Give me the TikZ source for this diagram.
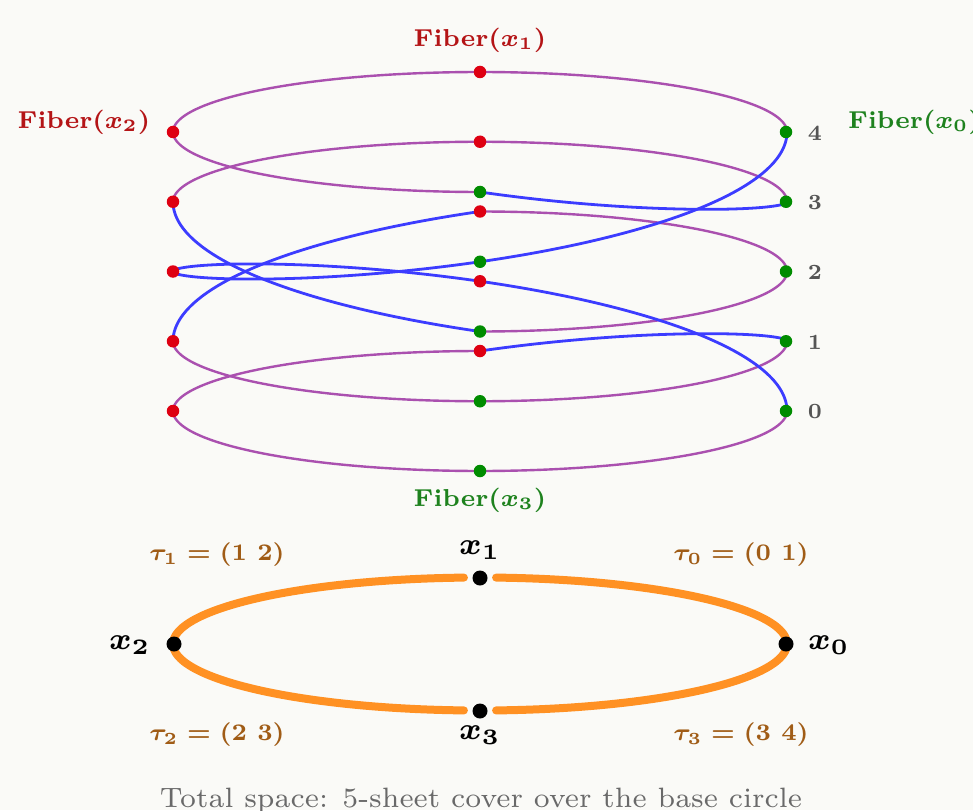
\documentclass[tikz,border=0pt]{standalone}
\usepackage{amsmath,bm}
\definecolor{bg}{RGB}{250,250,247}
\definecolor{sheetpurple}{RGB}{170,80,175}
\definecolor{swapblue}{RGB}{60,60,255}
\definecolor{dotred}{RGB}{222,0,18}
\definecolor{dotgreen}{RGB}{0,140,0}
\definecolor{labred}{RGB}{180,20,22}
\definecolor{labgreen}{RGB}{30,130,30}
\definecolor{taubrown}{RGB}{160,92,22}
\definecolor{numgrey}{RGB}{85,85,85}
\definecolor{capgrey}{RGB}{105,105,105}
\definecolor{baseorange}{RGB}{255,145,35}
\newcommand{\sheetseg}[5]{%
  \draw[#5] plot[domain=0:1, samples=70, smooth, variable=\t]
    ({480+307*cos(#1+(#2-#1)*\t)}, {411-69.75*(#3+(#4-#3)*\t)-60*sin(#1+(#2-#1)*\t)});}
\newcommand{\smallbold}[2]{\scalebox{#1}{\fontsize{7}{8}\selectfont\bfseries\boldmath #2}}
\newcommand{\smallreg}[2]{\scalebox{#1}{\fontsize{7}{8}\selectfont #2}}
\begin{document}
\begin{tikzpicture}[x=1pt,y=-1pt,
  idseg/.style={sheetpurple, line width=2.4pt},
  swseg/.style={swapblue, line width=2.8pt},
  rdot/.style={circle, fill=dotred, inner sep=0pt, minimum size=12.5pt},
  gdot/.style={circle, fill=dotgreen, inner sep=0pt, minimum size=12.5pt},
  bdot/.style={circle, fill=black, inner sep=0pt, minimum size=15pt},
  fibred/.style={text=labred, inner sep=0pt},
  fibgreen/.style={text=labgreen, inner sep=0pt},
  levnum/.style={text=numgrey, inner sep=0pt},
  taulab/.style={text=taubrown, inner sep=0pt},
  baselab/.style={text=black, inner sep=0pt},
  caption/.style={text=capgrey, inner sep=0pt},
  basearc/.style={baseorange, line width=8pt, line cap=round}]
\fill[bg] (0,0) rectangle (973,810);
\useasboundingbox (0,0) rectangle (973,810);
% upper right arc: tau0 = (0 1)
\sheetseg{0}{90}{2}{2}{idseg}
\sheetseg{0}{90}{3}{3}{idseg}
\sheetseg{0}{90}{4}{4}{idseg}
% upper left arc: tau1 = (1 2)
\sheetseg{90}{180}{0}{0}{idseg}
\sheetseg{90}{180}{3}{3}{idseg}
\sheetseg{90}{180}{4}{4}{idseg}
% lower left arc: tau2 = (2 3)
\sheetseg{180}{270}{0}{0}{idseg}
\sheetseg{180}{270}{1}{1}{idseg}
\sheetseg{180}{270}{4}{4}{idseg}
% lower right arc: tau3 = (3 4)
\sheetseg{270}{360}{0}{0}{idseg}
\sheetseg{270}{360}{1}{1}{idseg}
\sheetseg{270}{360}{2}{2}{idseg}
% swaps
\sheetseg{0}{90}{0}{1}{swseg}
\sheetseg{0}{90}{1}{0}{swseg}
\sheetseg{90}{180}{1}{2}{swseg}
\sheetseg{90}{180}{2}{1}{swseg}
\sheetseg{180}{270}{2}{3}{swseg}
\sheetseg{180}{270}{3}{2}{swseg}
\sheetseg{270}{360}{3}{4}{swseg}
\sheetseg{270}{360}{4}{3}{swseg}
% fiber points
\foreach \k in {0,...,4}{
  \node[gdot] (f0-\k) at (786,{411-69.75*\k}) {};
  \node[rdot] (f1-\k) at (480,{351-69.75*\k}) {};
  \node[rdot] (f2-\k) at (173,{411-69.75*\k}) {};
  \node[gdot] (f3-\k) at (480,{471-69.75*\k}) {};
  \node[levnum] (n\k) at (815,{412-69.75*\k}) {\smallbold{3.1}{\k}};
}
\node[fibred] (L1) at (480,40) {\smallbold{3.5}{Fiber$(x_1)$}};
\node[fibred] (L2) at (84,122) {\smallbold{3.5}{Fiber$(x_2)$}};
\node[fibgreen, anchor=west] (L0) at (848,122) {\smallbold{3.5}{Fiber$(x_0)$}};
\node[fibgreen] (L3) at (480,500) {\smallbold{3.5}{Fiber$(x_3)$}};
% base circle
\draw[basearc] plot[domain=93:267, samples=120, smooth, variable=\a] ({480+307*cos(\a)}, {644-66.5*sin(\a)});
\draw[basearc] plot[domain=273:447, samples=120, smooth, variable=\a] ({480+307*cos(\a)}, {644-66.5*sin(\a)});
\node[bdot] (b0) at (786,644) {};
\node[bdot] (b1) at (480,578) {};
\node[bdot] (b2) at (174,644) {};
\node[bdot] (b3) at (480,711) {};
\node[baselab] (x1) at (480,550) {\smallbold{4.4}{$x_1$}};
\node[baselab] (x3) at (480,735) {\smallbold{4.4}{$x_3$}};
\node[baselab] (x2) at (130,645) {\smallbold{4.4}{$x_2$}};
\node[baselab] (x0) at (829,645) {\smallbold{4.4}{$x_0$}};
\node[taulab] (t1) at (217,555) {\smallbold{3.4}{$\tau_1 = (1\ 2)$}};
\node[taulab] (t0) at (741,555) {\smallbold{3.4}{$\tau_0 = (0\ 1)$}};
\node[taulab] (t2) at (217,735) {\smallbold{3.4}{$\tau_2 = (2\ 3)$}};
\node[taulab] (t3) at (741,735) {\smallbold{3.4}{$\tau_3 = (3\ 4)$}};
\node[caption, anchor=base] (cap) at (481,807) {\smallreg{4}{Total space: 5-sheet cover over the base circle}};
\end{tikzpicture}
\end{document}
